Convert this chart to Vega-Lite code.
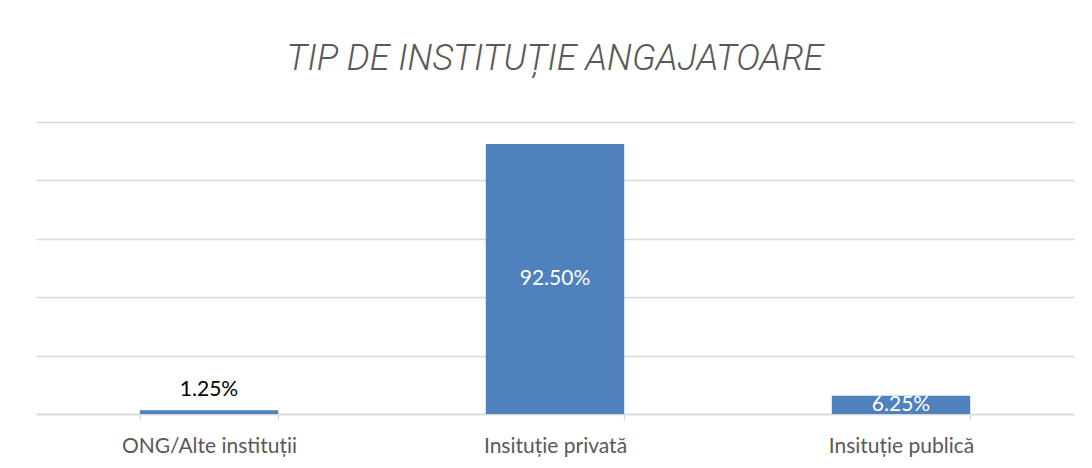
{
  "$schema": "https://vega.github.io/schema/vega-lite/v6.json",
  "autosize": {"type": "none"},
  "width": 1038,
  "height": 292,
  "padding": {"left": 36, "top": 122, "right": 18, "bottom": 54},
  "background": "white",
  "title": {
    "text": "TIP DE INSTITUȚIE ANGAJATOARE",
    "font": "Roboto",
    "fontSize": 36,
    "fontStyle": "italic",
    "fontWeight": 300,
    "color": "#595959",
    "anchor": "middle",
    "baseline": "alphabetic",
    "offset": 16
  },
  "data": {
    "values": [
      {"category": "ONG/Alte instituții", "value": 0.0125, "label": "1.25%", "inside": false},
      {"category": "Insituție privată", "value": 0.925, "label": "92.50%", "inside": true},
      {"category": "Insituție publică", "value": 0.0625, "label": "6.25%", "inside": true}
    ]
  },
  "config": {"view": {"stroke": null}},
  "encoding": {
    "x": {
      "field": "category",
      "type": "nominal",
      "sort": null,
      "scale": {"paddingInner": 0.6, "paddingOuter": 0.3},
      "axis": {
        "title": null,
        "labelAngle": 0,
        "labelFont": "Lato",
        "labelFontSize": 21,
        "labelColor": "#595959",
        "labelPadding": 15,
        "domainColor": "#D9D9D9",
        "domainWidth": 1.3,
        "tickColor": "#D9D9D9",
        "tickWidth": 1.3,
        "tickSize": 6,
        "tickBand": "extent"
      }
    }
  },
  "layer": [
    {
      "mark": {"type": "bar", "color": "#4F81BD"},
      "encoding": {
        "y": {
          "field": "value",
          "type": "quantitative",
          "scale": {"domain": [0, 1], "nice": false},
          "axis": {
            "title": null,
            "labels": false,
            "ticks": false,
            "domain": false,
            "values": [0, 0.2, 0.4, 0.6, 0.8, 1],
            "gridColor": "#D9D9D9",
            "gridWidth": 1.3
          }
        }
      }
    },
    {
      "transform": [{"filter": "datum.inside"}, {"calculate": "datum.value / 2", "as": "mid"}],
      "mark": {"type": "text", "color": "white", "font": "Lato", "fontSize": 21, "baseline": "middle"},
      "encoding": {
        "y": {"field": "mid", "type": "quantitative"},
        "text": {"field": "label"}
      }
    },
    {
      "transform": [{"filter": "!datum.inside"}],
      "mark": {"type": "text", "color": "black", "font": "Lato", "fontSize": 21, "baseline": "bottom", "dy": -10},
      "encoding": {
        "y": {"field": "value", "type": "quantitative"},
        "text": {"field": "label"}
      }
    }
  ]
}
